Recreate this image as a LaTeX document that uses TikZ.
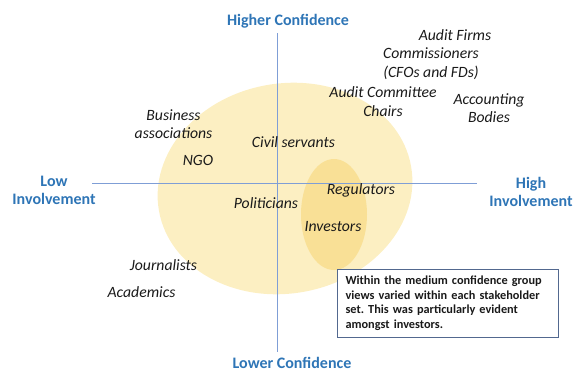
\documentclass[tikz,border=0pt]{standalone}
\usepackage{fontspec}
\setmainfont{Carlito}
\definecolor{axisblue}{HTML}{7F9ED6}
\definecolor{labelblue}{HTML}{2E75B6}
\definecolor{paleyellow}{HTML}{FCEFC2}
\definecolor{deepyellow}{HTML}{F9E096}
\definecolor{boxedge}{HTML}{52688F}
\definecolor{ink}{HTML}{1A1A1A}
\tikzset{
  axislabel/.style={font=\fontsize{16}{18}\selectfont\bfseries, text=labelblue, align=center, inner sep=0pt},
  stakeholder/.style={font=\fontsize{15.7}{18.5}\selectfont\itshape, text=ink, align=center, inner sep=0pt},
  axisline/.style={draw=axisblue, line width=0.9pt},
  notebox/.style={draw=boxedge, line width=1.1pt, fill=white, align=left,
    font=\fontsize{12.3}{14.6}\selectfont\bfseries\frenchspacing, text=ink,
    text width=205pt, inner xsep=8pt, inner ysep=6.5pt, anchor=north west}
}
\begin{document}
\begin{tikzpicture}[x=1pt,y=-1pt]
\useasboundingbox (0,0) rectangle (574,372);

% confidence groups
\fill[paleyellow, rotate around={10:(285,188.5)}] (285,188.5) ellipse [x radius=128, y radius=105];
\fill[deepyellow] (334,214.5) ellipse [x radius=33, y radius=55.5];

% axes
\coordinate (top) at (277.7,33);
\coordinate (bottom) at (277.7,352);
\coordinate (left) at (92,183);
\coordinate (right) at (477,183);
\draw[axisline] (top) -- (bottom);
\draw[axisline] (left) -- (right);

% axis labels
\node[axislabel] (hiconf) at (288,21) {Higher Confidence};
\node[axislabel, anchor=base] (loconf) at (292,368.5) {Lower Confidence};
\node[axislabel] (loinv) at (54,190) {Low\\Involvement};
\node[axislabel] (hiinv) at (531,192) {High\\Involvement};

% stakeholders
\node[stakeholder] (firms) at (455,35) {Audit Firms};
\node[stakeholder] (comm) at (431,63.5) {Commissioners\\(CFOs and FDs)};
\node[stakeholder] (acc) at (383,101.5) {Audit Committee\\Chairs};
\node[stakeholder] (bodies) at (489,108) {Accounting\\Bodies};
\node[stakeholder] (business) at (173.5,124) {Business\\associations};
\node[stakeholder] (ngo) at (198,160) {NGO};
\node[stakeholder] (civil) at (293.5,142) {Civil servants};
\node[stakeholder] (regul) at (361,190) {Regulators};
\node[stakeholder] (polit) at (266,203) {Politicians};
\node[stakeholder] (invest) at (333,227) {Investors};
\node[stakeholder] (journ) at (163.5,265) {Journalists};
\node[stakeholder] (acad) at (141.5,292) {Academics};

% note
\node[notebox] (note) at (337,269) {Within the medium confidence group views varied within each stakeholder set. This was particularly evident amongst investors.};
\end{tikzpicture}
\end{document}
